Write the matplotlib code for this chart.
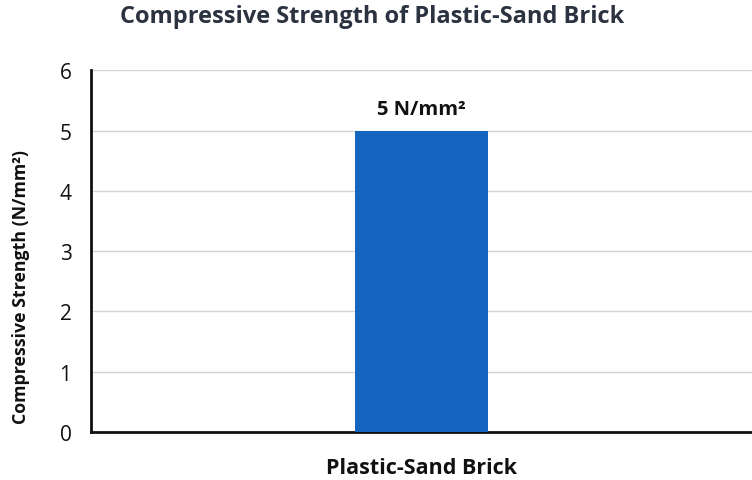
import matplotlib.pyplot as plt

# data
categories = ["Plastic-Sand Brick"]
strength = [5]
bar_labels = ["5 N/mm²"]
y_ticks = [0, 1, 2, 3, 4, 5, 6]

plt.rcParams['font.family'] = ['Open Sans', 'DejaVu Sans']

fig = plt.figure(figsize=(7.52, 4.81), dpi=100)
ax = fig.add_axes([0.121, 0.0998, 0.879, 0.752])

x = list(range(len(categories)))
bars = ax.bar(x, strength, width=0.4, color='#1565c0', zorder=3)

for b, lab in zip(bars, bar_labels):
    ax.text(b.get_x() + b.get_width() / 2, b.get_height() + 0.2, lab,
            ha='center', va='bottom', fontsize=14.5, fontweight='bold', color='#111111')

ax.set_xlim(-1, 1)
ax.set_ylim(0, 6)
ax.set_yticks(y_ticks)
ax.set_xticks([])
ax.tick_params(axis='y', length=0, pad=14, labelsize=15, labelcolor='#111111')

ax.grid(axis='y', color='#d4d4d4', linewidth=1, zorder=0)
for s in ['top', 'right']:
    ax.spines[s].set_visible(False)
ax.spines['left'].set_linewidth(2)
ax.spines['bottom'].set_linewidth(2)
ax.spines['left'].set_color('#111111')
ax.spines['bottom'].set_color('#111111')

ax.set_xlabel(categories[0], fontsize=15.5, fontweight='bold', labelpad=18, color='#111111')
ax.set_ylabel("Compressive Strength (N/mm²)", fontsize=12.8, fontweight='bold',
              color='#111111')
ax.yaxis.set_label_coords(-0.093, 0.405)

fig.text(0.495, 0.965, "Compressive Strength of Plastic-Sand Brick", ha='center', va='center',
         fontsize=17, fontweight='bold', color='#2b3240')

fig.savefig('out.png', dpi=100, facecolor='white')
